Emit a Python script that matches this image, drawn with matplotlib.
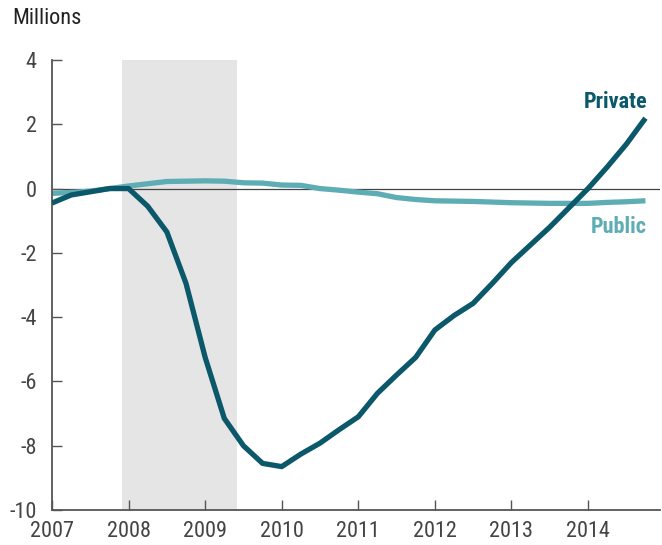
import matplotlib.pyplot as plt
from matplotlib import font_manager
import numpy as np

# quarterly job change vs. start of 2007 (millions)
quarters = np.arange(2007.0, 2014.76, 0.25)
private = [-0.45, -0.2, -0.1, 0.0, 0.0, -0.55, -1.35, -2.95,
           -5.25, -7.15, -8.0, -8.55, -8.65, -8.26, -7.92, -7.5,
           -7.1, -6.37, -5.8, -5.25, -4.4, -3.95, -3.57, -2.95,
           -2.3, -1.75, -1.2, -0.6, 0.0, 0.67, 1.38, 2.19]
public = [-0.15, -0.12, -0.08, 0.0, 0.08, 0.15, 0.22, 0.23,
          0.24, 0.23, 0.18, 0.17, 0.11, 0.1, 0.0, -0.05,
          -0.11, -0.16, -0.28, -0.34, -0.38, -0.39, -0.4, -0.42,
          -0.44, -0.45, -0.46, -0.46, -0.46, -0.43, -0.41, -0.38]
recession = (2007.92, 2009.42)
year_ticks = list(range(2007, 2015))
y_ticks = [4, 2, 0, -2, -4, -6, -8, -10]

c_private = '#0b586b'
c_public = '#5eacb4'

# pick a narrow face if one is around
names = {f.name for f in font_manager.fontManager.ttflist}
narrow = None
for cand in ['Liberation Sans Narrow', 'Roboto Condensed', 'Open Sans Condensed',
             'DejaVu Sans Condensed']:
    if cand in names:
        narrow = cand
        break
if narrow:
    plt.rcParams['font.family'] = [narrow, 'DejaVu Sans']
    fs = 16
else:
    plt.rcParams['font.family'] = ['DejaVu Sans']
    plt.rcParams['font.stretch'] = 'condensed'
    fs = 13

fig = plt.figure(figsize=(6.62, 5.45), dpi=100)
ax = fig.add_axes([52 / 662, 35 / 545, 608 / 662, 450 / 545])

ax.axvspan(*recession, color='#e5e5e5', lw=0, zorder=0)
ax.axhline(0, color='#444444', lw=0.9, zorder=1)
ax.plot(quarters, public, color=c_public, lw=3.8, zorder=2, solid_capstyle='butt')
ax.plot(quarters, private, color=c_private, lw=3.8, zorder=3, solid_capstyle='butt')

ax.set_xlim(2007, 2014.94)
ax.set_ylim(-10, 4)
ax.set_xticks(year_ticks)
ax.set_xticklabels([str(y) for y in year_ticks])
ax.set_yticks(y_ticks)
ax.set_yticklabels([str(v) for v in y_ticks])

for s in ['top', 'right']:
    ax.spines[s].set_visible(False)
for s in ['left', 'bottom']:
    ax.spines[s].set_color('#555555')
    ax.spines[s].set_linewidth(1.3)
ax.tick_params(direction='in', length=7, width=1, color='#555555',
               labelsize=fs, labelcolor='#444444')
ax.tick_params(axis='x', pad=8)
ax.tick_params(axis='y', pad=11)

ax.text(2014.77, 2.7, 'Private', color=c_private, fontsize=fs,
        fontweight='bold', ha='right', va='center')
ax.text(2014.77, -1.2, 'Public', color=c_public, fontsize=fs,
        fontweight='bold', ha='right', va='center')

fig.text(12 / 662, 1 - 18 / 545, 'Millions', fontsize=fs, color='#222222',
         ha='left', va='center')

fig.savefig('out.png', dpi=100)
